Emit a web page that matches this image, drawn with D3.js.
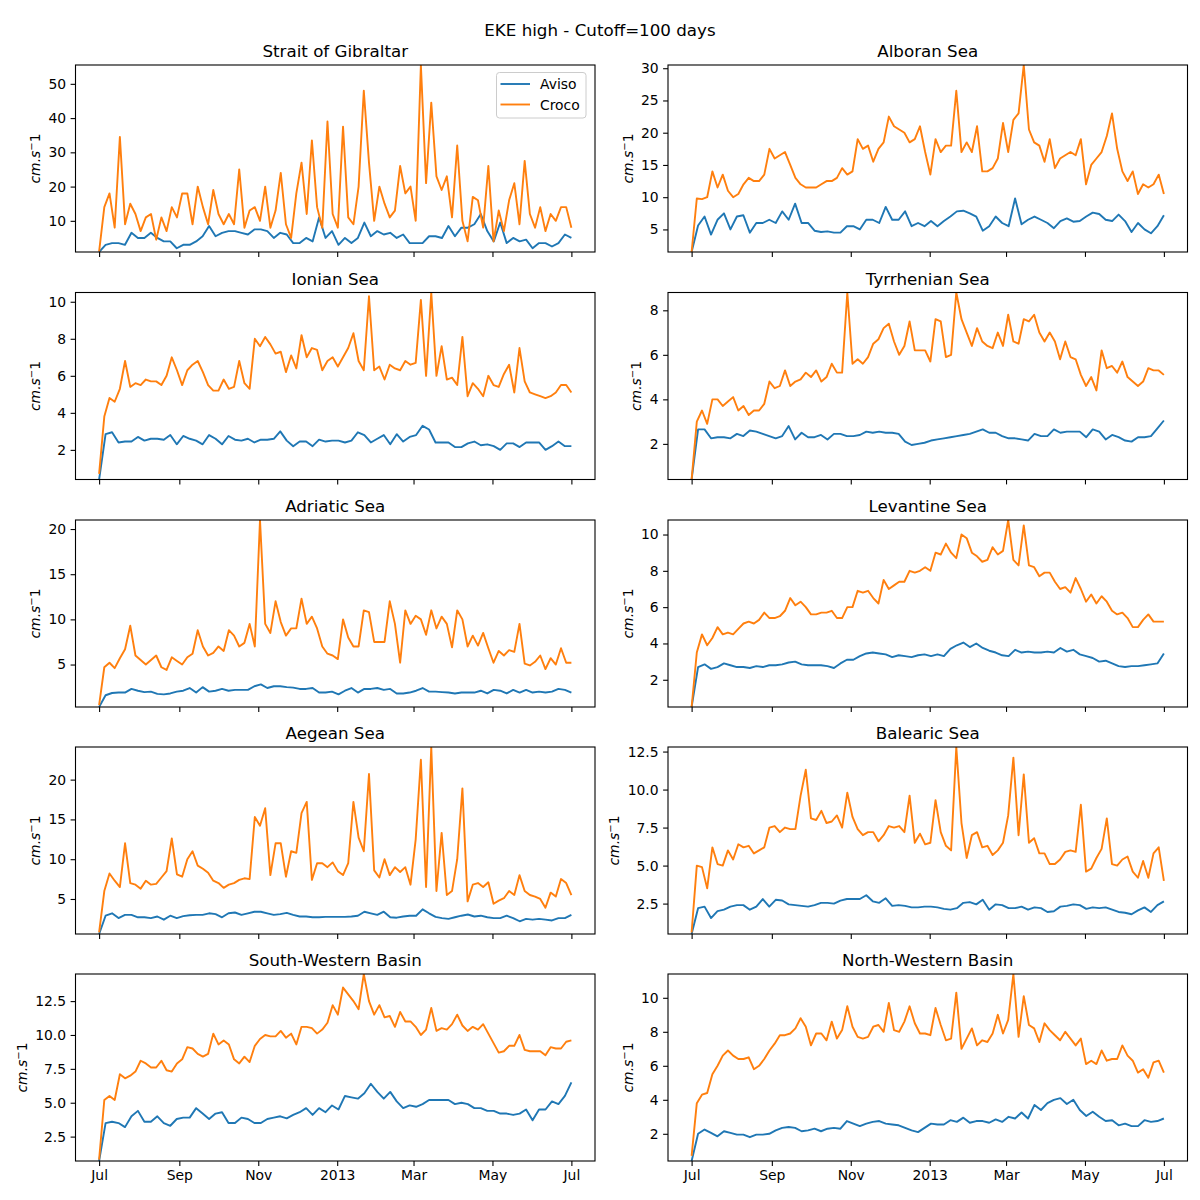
<!DOCTYPE html>
<html><head><meta charset="utf-8">
<script src="https://cdn.jsdelivr.net/npm/d3@7"></script>
<style>body{margin:0;background:#fff}text{font-family:"DejaVu Sans",sans-serif}</style>
</head><body><svg id="c" width="1200" height="1200"></svg>
<script>
const suptitle = "EKE high - Cutoff=100 days";
const regions = ["Strait of Gibraltar","Alboran Sea","Ionian Sea","Tyrrhenian Sea","Adriatic Sea","Levantine Sea","Aegean Sea","Balearic Sea","South-Western Basin","North-Western Basin"];
const seriesNames = ["Aviso","Croco"];
const monthTicks = ["2012-07-01","2012-09-01","2012-11-01","2013-01-01","2013-03-01","2013-05-01","2013-07-01"];
const monthLabels = ["Jul","Sep","Nov","2013","Mar","May","Jul"];
const startDate = "2012-07-01", endDate = "2013-07-01";
const yLabel = "cm.s";

const yTicksGib=[10,20,30,40,50], yTicksAlb=[5,10,15,20,25,30], yTicksIon=[2,4,6,8,10], yTicksTyr=[2,4,6,8],
 yTicksAdr=[5,10,15,20], yTicksLev=[2,4,6,8,10], yTicksAeg=[5,10,15,20], yTicksBal=[2.5,5,7.5,10,12.5],
 yTicksSW=[2.5,5,7.5,10,12.5], yTicksNW=[2,4,6,8,10];

const avisoGib=[0.9,3,3.5,3.5,3,6.5,5,5,6.5,5,4,4,2,3,3,4,5.5,8.5,5.5,6.5,7,7,6.5,6,7.5,7.5,7,5,6.5,6,3.5,3.5,5,4,11,5,7,3,5,3.5,5,9.5,5.5,7,6,6.5,5,6,3.5,3.5,3.5,5.5,5.5,5,8.5,5.5,8,8,9,12,7,4,9.5,3.5,5,4,4.5,2,3.5,3.5,2.5,3.5,6,5];
const crocoGib=[1,14,18,8,34.5,9,15,12,7,11,12,4.5,11,7,14,11,18,18,9,20,14,9,19,12,9,12,9,25,8,13,14,10,20,8,13,24,9,5,18,27,12,33.5,14,8,39,12,8,37.5,11,9,20,48,27,10,20,15,11,13,26,18,20,10,55.5,21,44.5,23,19,23,11,32,10,4,17,16,8,26,4,13,7,16,21,9,27.5,12,8,14,7,12,10,14,14,8];

const avisoAlb=[1.5,5.6,7,4.2,6.5,7.5,5,7,7.2,4.5,6,6,6.5,6,7.8,6.5,9,6,6,4.8,4.6,4.7,4.5,4.5,5.5,5.5,5,6.5,6.5,6,8.5,6.5,6.5,7.8,5.5,6,5.5,6.3,5.5,6.3,7,7.8,7.9,7.5,7,4.8,5.5,7,6,5.5,9.8,5.8,6.5,7,6.5,6,5.2,6.3,6.7,6.2,6.3,7,7.6,7.4,6.5,6.3,7.3,6.3,4.6,6,5,4.4,5.5,7.2];
const crocoAlb=[1.5,9.8,9.7,10,14,11.5,13.5,11,10,10.5,12,13,12.5,12.5,13.5,17.5,16,16.5,17,15,13,12,11.5,11.5,11.5,12,12.5,12.5,13,14.5,13.5,14,19,17.5,18,15.5,17.5,18.5,22.5,21,20.5,20,18.5,19,21,17,13.5,19,17,18,18,26.5,17,18.5,17,21,14,14,14.5,16,21.5,17,22,23,30.5,20.5,18.5,18,15.5,19,14.5,16,16.5,17,16.5,19,12,15,16,17,19.5,23,17.5,14,12.5,14,10.5,12,11.5,12,13.5,10.5];

const avisoIon=[0.4,2.85,2.95,2.4,2.45,2.45,2.7,2.5,2.6,2.6,2.55,2.8,2.3,2.75,2.6,2.5,2.3,2.8,2.6,2.3,2.75,2.55,2.5,2.6,2.4,2.55,2.55,2.6,3,2.5,2.2,2.45,2.45,2.2,2.55,2.45,2.5,2.5,2.4,2.5,2.95,2.8,2.4,2.6,2.8,2.3,2.85,2.45,2.7,2.8,3.3,3.1,2.4,2.4,2.4,2.15,2.15,2.35,2.45,2.25,2.3,2.2,2,2.35,2.35,2.15,2.4,2.4,2.4,2,2.2,2.45,2.2,2.2];
const crocoIon=[0.7,3.8,4.8,4.6,5.3,6.8,5.4,5.6,5.5,5.8,5.7,5.7,5.5,6,7,6.3,5.5,6.3,6.6,6.8,6.2,5.5,5.2,5.2,5.8,5.3,5.4,6.8,5.6,5.3,8,7.6,8.1,7.7,7.2,7.3,6.2,7.1,6.4,8.2,7,7.5,7.4,6.3,6.8,7,6.5,7,7.5,8.3,6.8,6.3,10.3,6.3,6.5,5.8,6.6,6.4,6.3,6.8,6.6,6.7,10.1,6,10.5,6,7.6,5.8,5.9,5.5,8.1,4.9,5.6,5.3,4.9,6,5.5,5.4,6.1,6.6,5.1,7.5,5.7,5.1,5,4.9,4.8,4.9,5.1,5.5,5.5,5.1];

const avisoTyr=[0.4,2.65,2.65,2.25,2.3,2.3,2.25,2.45,2.35,2.6,2.55,2.45,2.35,2.25,2.35,2.8,2.2,2.5,2.3,2.3,2.4,2.2,2.45,2.45,2.35,2.35,2.4,2.55,2.5,2.55,2.5,2.5,2.45,2.1,1.95,2,2.05,2.15,2.2,2.25,2.3,2.35,2.4,2.45,2.55,2.65,2.5,2.5,2.35,2.25,2.25,2.2,2.15,2.45,2.35,2.35,2.65,2.5,2.55,2.55,2.55,2.3,2.65,2.55,2.2,2.4,2.3,2.15,2.1,2.3,2.3,2.35,2.7,3.05];
const crocoTyr=[0.4,3,3.5,2.9,4,4,3.7,3.9,4.1,3.5,3.7,3.3,3.5,3.5,3.8,4.8,4.5,4.6,5.3,4.6,4.8,4.9,5.2,5,5.3,4.8,5,5.6,5.2,5.2,8.8,5.6,5.8,5.6,5.9,6.5,6.7,7.2,7.4,6.6,6,6.4,7.5,6.2,6.2,6.2,5.7,7.6,7.5,5.9,6,8.8,7.6,7,6.4,7.2,6.6,6.4,6.3,7,6.4,7.8,6.6,6.5,7.6,7.5,7.8,7,6.6,7,6.6,5.8,6.6,5.9,5.8,5.1,4.6,5,4.4,6.2,5.4,5.5,5.2,5.7,5,4.8,4.6,4.8,5.4,5.3,5.3,5.1];

const avisoAdr=[0.3,1.6,1.85,1.9,1.9,2.3,2.1,1.95,2,1.75,1.7,1.8,2,2.1,2.4,1.9,2.5,2,2.1,2.3,2.1,2.2,2.2,2.2,2.6,2.8,2.4,2.6,2.6,2.5,2.45,2.3,2.3,2.4,1.9,1.9,2,1.7,2.1,2.4,1.9,2.3,2.3,2.4,2.2,2.3,1.8,1.8,1.9,2.1,2.4,2,2,1.95,1.9,1.8,1.9,1.9,1.9,2.1,1.8,2.2,2.1,1.8,2.2,1.9,2.2,1.9,2,1.9,2,2.3,2.2,1.9];
const crocoAdr=[0.5,4.7,5.2,4.6,5.7,6.7,9.3,6,5.5,5,5.5,6,4.7,4.4,5.8,5.4,5,5.8,6.2,8.8,7,6,6.3,7,6.5,8.8,8.2,7,7.4,9.5,7,21,9.5,8.5,12,9.7,8.2,9,9,12.3,9.5,10.3,9,7,6.2,6,5.6,10,8,7,7,11,10.8,7.5,7.5,7.5,12,9.5,5.2,11,9.5,10.4,10,8.3,11,9,10.3,9.5,6.9,11,10,7,8.2,7.1,8.5,6.8,5.2,6.5,6,6.6,6.4,9.5,5.1,4.9,5.3,6,4.5,5.7,5,6.8,5.2,5.2];

const avisoLev=[0.5,2.7,2.85,2.6,2.7,2.9,2.8,2.7,2.7,2.65,2.75,2.7,2.8,2.8,2.85,2.95,3,2.85,2.8,2.8,2.8,2.75,2.65,2.9,3.1,3.1,3.3,3.45,3.5,3.45,3.4,3.25,3.35,3.3,3.25,3.35,3.4,3.3,3.4,3.3,3.7,3.9,4.05,3.8,4,3.75,3.6,3.5,3.35,3.3,3.65,3.5,3.55,3.5,3.5,3.55,3.5,3.75,3.55,3.65,3.4,3.3,3.2,3,3.05,2.9,2.75,2.7,2.75,2.75,2.8,2.85,2.9,3.45];
const crocoLev=[0.5,3.5,4.5,3.9,4.3,4.9,4.5,4.6,4.5,4.8,5.1,5.2,5.1,5.3,5.7,5.4,5.4,5.5,5.8,6.5,6.1,6.3,6,5.6,5.6,5.7,5.7,5.8,5.4,5.4,6,6,6.9,6.8,6.9,6.5,6.2,7.5,7,7.2,7.4,7.4,8,7.9,8,8.2,8,9,8.9,9.5,9,8.7,10,9.8,9,8.8,8.5,8.6,9.3,8.9,9.1,10.8,8.6,8.3,10.5,8.3,8.2,7.7,7.9,7.9,7.4,7,7.1,6.8,7.6,7,6.3,6.7,6.2,6.6,6.3,5.8,5.6,5.7,5.4,4.9,4.9,5.3,5.6,5.2,5.2,5.2];

const avisoAeg=[0.6,2.9,3.2,2.6,3,3,2.7,2.7,2.6,2.8,2.4,2.9,2.6,2.85,2.95,3,3,3.2,3.1,2.7,3.2,3.3,3,3.2,3.4,3.4,3.2,3,3.1,3.25,3,2.8,2.8,2.7,2.7,2.75,2.75,2.75,2.75,2.8,2.9,3.4,3.2,3,3.4,2.7,2.65,2.8,2.9,2.9,3.7,3.2,2.75,2.6,2.5,2.7,2.9,3.05,2.8,2.9,2.7,2.6,2.6,2.9,2.6,2.2,2.5,2.4,2.5,2.4,2.3,2.6,2.6,3];
const crocoAeg=[0.8,6,8.2,7.3,6.5,12,7,6.8,6.3,7.3,6.8,6.9,7.7,8.5,12.6,8.1,7.8,10,11,9.2,8.8,8.3,7.3,7,6.4,6.8,7,7.4,7.6,7.5,15.3,14.2,16.4,8,12,12,7.8,11,10.8,15.8,17.2,7.4,9.5,9.5,9,9.6,8.5,8,9.5,17.2,12.7,11,20.7,8.6,7.7,10,8,9,8.4,9,6.8,12.5,22.5,6.5,24.1,6,13.3,5.5,6,10,18.9,4.7,6.8,7,6.5,7.1,4.4,4.8,5.1,6,5.5,8,6,5.5,5.3,5,3.9,5.8,5.3,7.5,7,5.5];

const avisoBal=[0.5,2.2,2.3,1.55,2,2.1,2.3,2.4,2.4,2.1,2.3,2.8,2.3,2.75,2.7,2.45,2.4,2.35,2.3,2.4,2.55,2.55,2.5,2.7,2.8,2.8,2.8,3.05,2.65,2.55,2.85,2.35,2.4,2.35,2.25,2.25,2.3,2.3,2.25,2.15,2.1,2.2,2.55,2.6,2.45,2.75,2.1,2.45,2.4,2.2,2.2,2.3,2.1,2.25,2.2,1.95,2,2.3,2.35,2.45,2.4,2.15,2.25,2.2,2.25,2.1,1.95,1.9,1.8,2.05,2.25,1.95,2.4,2.65];
const crocoBal=[0.6,5,4.9,3.5,6.2,5.1,5,6,5.4,6.4,6.2,6.3,5.8,6,6.2,7.5,7.6,7.2,7.5,7.4,7.4,9.6,11.3,8.1,8,8.6,7.8,7.9,8.3,7.5,9.8,8.2,7.4,7,7.2,7.2,6.6,7,7.6,7.5,7.6,7.2,9.6,6.5,7.1,6.4,6.5,9.3,7.2,6.3,6,12.8,7.8,5.5,7,7.2,6.2,6.3,5.7,6,6.5,8.3,12.1,7,11,6.5,6.8,5.8,5.8,5.1,5.1,5.4,5.9,6,5.9,9,4.6,4.8,5.5,6.1,8.1,5.1,5,5.4,5.6,4.6,4.2,5.3,4.2,5.8,6.2,4];

const avisoSW=[0.7,3.5,3.6,3.5,3.2,4,4.4,3.6,3.6,4,3.5,3.3,3.8,3.9,3.9,4.6,4.2,3.8,4.2,4.3,3.5,3.5,3.9,3.8,3.5,3.5,3.8,3.9,4,3.85,4.1,4.3,4.6,4.1,4.6,4.3,4.8,4.5,5.5,5.4,5.3,5.7,6.4,5.8,5.3,5.8,5.1,4.6,4.8,4.7,4.9,5.2,5.2,5.2,5.2,4.9,5,4.9,4.6,4.6,4.4,4.4,4.2,4.2,4.1,4.2,4.5,3.7,4.5,4.5,5.1,4.9,5.5,6.5];
const crocoSW=[0.8,5.2,5.5,5.2,7.1,6.8,7,7.3,8.1,7.9,7.6,7.6,8.1,7.4,7.3,7.9,8.2,9.1,9,8.6,8.4,8.6,10.1,9.3,9.6,9.3,8.2,7.9,8.4,8,9.2,9.7,10,9.9,9.9,10.3,9.8,10.1,9.3,10.6,10.6,10.5,10.1,10.4,10.9,12.2,11.5,13.5,13,12.5,11.9,14.5,12.5,11.5,12.2,11.3,11.4,10.6,11.7,11,11,10.6,10,10.4,12,10.3,10.5,10.4,10.8,11.5,10.7,10.3,10.6,10.4,10.8,10.1,9.4,8.7,8.8,9.2,9.2,10,8.9,8.8,8.8,8.8,8.5,9.1,9,9,9.5,9.6];

const avisoNW=[0.4,2,2.25,2.05,1.85,2.15,2.05,1.95,1.95,1.8,1.95,1.95,2,2.2,2.35,2.4,2.35,2.15,2.2,2.3,2.15,2.3,2.35,2.3,2.75,2.6,2.45,2.6,2.7,2.75,2.6,2.55,2.5,2.35,2.2,2.1,2.35,2.6,2.55,2.55,2.8,2.7,2.95,2.65,2.75,2.75,2.65,2.85,2.7,3,2.9,3.25,2.9,3.7,3.4,3.8,4,4.1,3.75,4,3.4,3.05,3.3,3,2.75,2.8,2.5,2.6,2.45,2.45,2.8,2.7,2.75,2.9];
const crocoNW=[0.7,3.8,4.3,4.4,5.5,6,6.6,6.9,6.6,6.4,6.4,6.5,5.8,6,6.4,6.9,7.3,7.8,7.8,7.9,8.2,8.8,8.3,7.2,7.9,7.9,7.5,8.6,7.6,8.1,9.5,8.3,7.7,7.6,7.7,8.3,8.4,8,9.7,8.1,8,8.6,9.5,8.5,7.9,7.9,7.8,9.4,8.4,7.5,7.6,10.3,7,7.6,8.2,7.2,7.5,7.4,7.9,9,7.9,8.7,11.4,7.7,10.1,8.4,8.2,7.4,8.5,8.1,7.8,7.5,8,7.6,7.2,7.6,6.1,6.3,6.1,6.9,6.3,6.4,6.4,7.2,6.6,6.3,5.6,5.8,5.3,6.2,6.3,5.6];

const avisoAll=[avisoGib,avisoAlb,avisoIon,avisoTyr,avisoAdr,avisoLev,avisoAeg,avisoBal,avisoSW,avisoNW];
const crocoAll=[crocoGib,crocoAlb,crocoIon,crocoTyr,crocoAdr,crocoLev,crocoAeg,crocoBal,crocoSW,crocoNW];
const yTicksAll=[yTicksGib,yTicksAlb,yTicksIon,yTicksTyr,yTicksAdr,yTicksLev,yTicksAeg,yTicksBal,yTicksSW,yTicksNW];

const colors=["#1f77b4","#ff7f0e"];
const svg=d3.select("#c");
const parse=d3.utcParse("%Y-%m-%d");
const t0=parse(startDate), t1=parse(endDate);
const span=(t1-t0);
const pad=span*0.05;
const colX=[75.5,668], W=519.5, rowY=[65,292.5,520,747,974], H=187;

svg.append("text").attr("x",600).attr("y",36).attr("text-anchor","middle")
  .attr("font-size","16.7px").text(suptitle);

function toSeries(arr){const n=arr.length;return arr.map((v,i)=>({t:new Date(+t0+span*i/(n-1)),v}));}

regions.forEach((name,k)=>{
  const col=k%2,row=Math.floor(k/2);
  const x0=colX[col], y0=rowY[row];
  const g=svg.append("g").attr("transform",`translate(${x0},${y0})`);
  const a=avisoAll[k], c=crocoAll[k];
  const lo=Math.min(d3.min(a),d3.min(c)), hi=Math.max(d3.max(a),d3.max(c));
  const x=d3.scaleUtc().domain([new Date(+t0-pad),new Date(+t1+pad)]).range([0,W]);
  const y=d3.scaleLinear().domain([lo,hi]).range([H,0]);
  const clipId="clip"+k;
  g.append("clipPath").attr("id",clipId).append("rect").attr("width",W).attr("height",H);
  const line=d3.line().x(d=>x(d.t)).y(d=>y(d.v));
  [a,c].forEach((arr,si)=>{
    g.append("path").datum(toSeries(arr)).attr("clip-path",`url(#${clipId})`)
     .attr("fill","none").attr("stroke",colors[si]).attr("stroke-width",1.9)
     .attr("stroke-linejoin","round").attr("d",line);
  });
  const xAxis=d3.axisBottom(x).tickValues(monthTicks.map(parse)).tickSize(4.9).tickPadding(4.5)
     .tickFormat((d,i)=>row===4?monthLabels[i]:"");
  const gx=g.append("g").attr("transform",`translate(0,${H})`).call(xAxis);
  const fmt=yTicksAll[k].some(v=>v%1!==0)?d3.format(".1f"):d3.format("d");
  const gy=g.append("g").call(d3.axisLeft(y).tickValues(yTicksAll[k]).tickSize(4.9).tickPadding(4.5).tickFormat(fmt));
  [gx,gy].forEach(ax=>{
    ax.select(".domain").remove();
    ax.selectAll("line").attr("stroke","#000").attr("stroke-width",1.1);
    ax.selectAll("text").attr("font-size","13.9px").attr("fill","#000").attr("font-family","DejaVu Sans");
  });
  let maxW=0;
  gy.selectAll("text").each(function(){maxW=Math.max(maxW,this.getComputedTextLength());});
  g.append("rect").attr("width",W).attr("height",H).attr("fill","none").attr("stroke","#000").attr("stroke-width",1.1);
  g.append("text").attr("x",W/2).attr("y",-8).attr("text-anchor","middle").attr("font-size","16.7px").text(name);
  const labX = -(9.4+maxW+8.4);
  const yl=g.append("text").attr("transform",`translate(${labX},${H/2}) rotate(-90)`).attr("text-anchor","middle").attr("font-size","13.9px");
  yl.append("tspan").attr("font-style","italic").text(yLabel);
  yl.append("tspan").attr("dy",-5).attr("font-size","10px").text("\u2212");
  yl.append("tspan").attr("dy",5).text("1");
  if(k===0){
    const lg=g.append("g").attr("transform",`translate(${W-98.5},7.5)`);
    lg.append("rect").attr("width",89.5).attr("height",45.5).attr("rx",3).attr("fill","#fff").attr("fill-opacity",0.8).attr("stroke","#cccccc").attr("stroke-width",1);
    seriesNames.forEach((s,i)=>{
      const yy=11.5+i*20.5;
      lg.append("line").attr("x1",4).attr("x2",33.5).attr("y1",yy).attr("y2",yy).attr("stroke",colors[i]).attr("stroke-width",1.9);
      lg.append("text").attr("x",43.5).attr("y",yy+5).attr("font-size","13.9px").text(s);
    });
  }
});
</script></body></html>
